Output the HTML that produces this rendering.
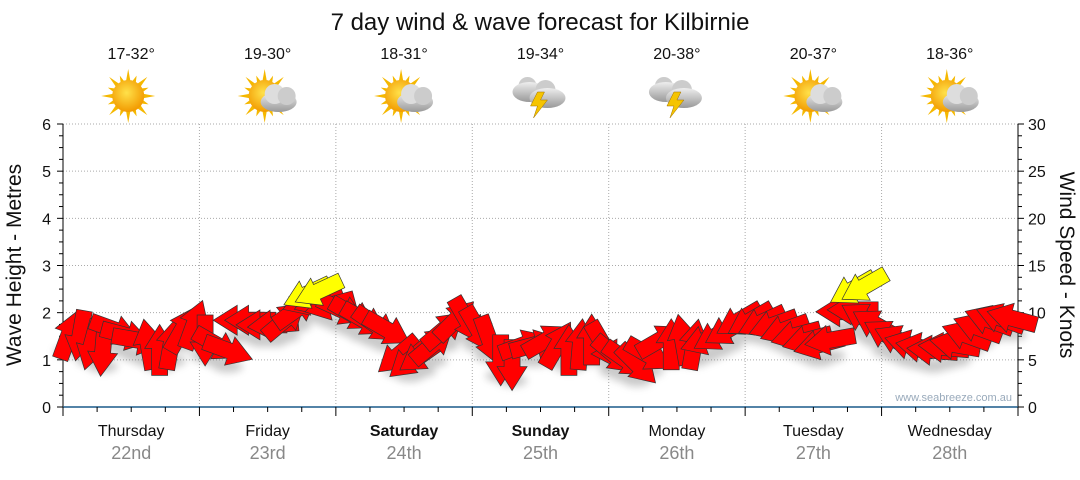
<!DOCTYPE html>
<html><head><meta charset="utf-8"><style>
body{margin:0;background:#fff;width:1080px;height:475px;overflow:hidden;font-family:"Liberation Sans",sans-serif}
</style></head><body>
<svg id="c" width="1080" height="475" xmlns="http://www.w3.org/2000/svg">
<defs>
<radialGradient id="sun" cx="45%" cy="40%" r="60%"><stop offset="0" stop-color="#ffe14a"/><stop offset="1" stop-color="#f29a00"/></radialGradient>
<linearGradient id="cloud" x1="0" y1="0" x2="0" y2="1"><stop offset="0" stop-color="#eee"/><stop offset="1" stop-color="#999"/></linearGradient>
<filter id="sh" x="-50%" y="-50%" width="200%" height="200%"><feGaussianBlur stdDeviation="4"/></filter>
</defs>
</svg>
<script>
const days=["Thursday","Friday","Saturday","Sunday","Monday","Tuesday","Wednesday"];
const dates=["22nd","23rd","24th","25th","26th","27th","28th"];
const temps=["17-32°","19-30°","18-31°","19-34°","20-38°","20-37°","18-36°"];
const icons=["sun","suncloud","suncloud","storm","storm","suncloud","suncloud"];
const waveTicks=[0,1,2,3,4,5,6];
const windTicks=[0,5,10,15,20,25,30];
const windSpeed=[7.6,7.6,6.6,6.0,8.2,7.6,7.1,6.6,6.0,6.6,8.2,8.7,
7.1,6.6,6.0,9.2,9.2,8.7,8.7,9.2,10.3,11.3,11.3,10.8,
10.3,9.8,9.2,8.7,8.2,5.5,5.0,5.5,6.6,8.2,9.2,9.2,
8.2,7.1,5.0,4.5,6.6,6.6,7.1,6.6,6.0,6.6,7.1,6.6,
5.5,5.0,4.5,5.5,7.1,6.6,7.1,6.6,7.1,7.6,8.2,9.2,
9.2,9.0,8.7,8.2,7.6,7.1,6.6,7.1,10.1,10.3,9.4,8.7,
7.6,7.1,6.6,6.3,6.0,6.3,6.6,7.6,8.4,9.2,9.4,9.4];
const windDir=[-70,100,105,95,20,15,10,-100,-90,-80,-60,-70,
90,30,20,180,180,180,175,-40,-35,160,160,165,
25,30,30,35,30,140,140,145,-40,-40,-45,60,
60,70,90,90,-20,-15,-30,-60,-90,-85,-90,60,
40,35,45,30,-30,-90,-100,-80,160,150,150,150,
150,155,160,160,165,165,165,170,180,180,210,210,
210,205,195,190,185,185,190,200,200,200,200,195];
const gustIdx=[21,22,69,70];
const gustSpeed=[12.0,12.3,12.5,12.8];
const gustDir=[155,155,150,150];

const svg=document.getElementById('c');const NS='http://www.w3.org/2000/svg';
function el(t,a,p){const e=document.createElementNS(NS,t);for(const k in a)e.setAttribute(k,a[k]);(p||svg).appendChild(e);return e;}
const X0=63,X1=1018,Y0=407,Y1=124,DW=(X1-X0)/7;
const yW=m=>Y0-(m/6)*(Y0-Y1);
const yK=k=>Y0-(k/30)*(Y0-Y1);
const xI=i=>X0+(i+0.5)*DW/12;

let t=el('text',{x:540,y:30,'text-anchor':'middle','font-size':24,fill:'#111'});t.textContent='7 day wind & wave forecast for Kilbirnie';



for(let m=1;m<=6;m++){const g=el('line',{x1:X0,x2:X1,y1:yW(m),y2:yW(m),stroke:'#aaa','stroke-dasharray':'1,2'});

}
for(let d=1;d<7;d++){const x=X0+d*DW;const g=el('line',{x1:x,x2:x,y1:Y1,y2:Y0,stroke:'#aaa','stroke-dasharray':'1,2'});

}
el('line',{x1:X0,x2:X0,y1:Y1,y2:Y0+6,stroke:'#000'});
el('line',{x1:X1,x2:X1,y1:Y1,y2:Y0+6,stroke:'#000'});
const bx=el('line',{x1:X0,x2:X1,y1:Y0,y2:Y0,stroke:'#1a5a8a','stroke-width':1.5});


for(let m=0;m<=6;m+=0.25){const big=Math.abs(m-Math.round(m))<0.01;el('line',{x1:X0-(big?6:4),x2:X0,y1:yW(m),y2:yW(m),stroke:'#000'});}
for(let k=0;k<=30;k+=1.25){const big=Math.abs(k/5-Math.round(k/5))<0.01;el('line',{x1:X1,x2:X1+(big?6:4),y1:yK(k),y2:yK(k),stroke:'#000'});}
waveTicks.forEach(m=>{const e=el('text',{x:X0-12,y:yW(m)+6,'text-anchor':'end','font-size':16,fill:'#111'});e.textContent=m;

});
windTicks.forEach(k=>{const e=el('text',{x:X1+10,y:yK(k)+6,'font-size':16,fill:'#111'});e.textContent=k;

});
for(let h=0;h<=28;h++){const x=X0+h*DW/4;const big=h%4==0;el('line',{x1:x,x2:x,y1:Y0,y2:Y0+(big?9:5),stroke:'#000'});}
let yl=el('text',{transform:'translate(21,265) rotate(-90)','text-anchor':'middle','font-size':21,fill:'#111'});yl.textContent='Wave Height - Metres';


let yr=el('text',{transform:'translate(1060,265) rotate(90)','text-anchor':'middle','font-size':21,fill:'#111'});yr.textContent='Wind Speed - Knots';


let wm=el('text',{x:1012,y:401,'text-anchor':'end','font-size':11,fill:'#99aabb'});wm.textContent='www.seabreeze.com.au';



days.forEach((d,i)=>{const cx=X0+(i+0.5)*DW;
const a=el('text',{x:cx,y:436,'text-anchor':'middle','font-size':16,fill:'#111','font-weight':(i==2||i==3)?'bold':'normal'});a.textContent=d;


const b=el('text',{x:cx,y:459,'text-anchor':'middle','font-size':18,fill:'#888'});b.textContent=dates[i];


const tt=el('text',{x:cx,y:59,'text-anchor':'middle','font-size':16,fill:'#111'});tt.textContent=temps[i];


const g=el('g',{transform:`translate(${cx-3},96)`});


const ic=icons[i];
if(ic!='storm'){for(let r=0;r<16;r++){const an=r*Math.PI/8,L=r%2?22:27;el('polygon',{points:`${Math.cos(an)*L},${Math.sin(an)*L} ${Math.cos(an+0.2)*13},${Math.sin(an+0.2)*13} ${Math.cos(an-0.2)*13},${Math.sin(an-0.2)*13}`,fill:'#f5b800'},g);}
el('circle',{r:16,fill:'url(#sun)'},g);}
if(ic=='suncloud'){el('ellipse',{cx:14,cy:6,rx:18,ry:10,fill:'url(#cloud)'},g);el('circle',{cx:10,cy:-2,r:10,fill:'#ddd'},g);el('circle',{cx:22,cy:0,r:9,fill:'#ccc'},g);}
if(ic=='storm'){el('circle',{cx:-10,cy:-10,r:9,fill:'#ccc'},g);el('ellipse',{cx:-8,cy:-4,rx:17,ry:10,fill:'url(#cloud)'},g);el('circle',{cx:8,cy:-6,r:10,fill:'#ccc'},g);el('ellipse',{cx:10,cy:2,rx:18,ry:10,fill:'url(#cloud)'},g);
el('polygon',{points:'0,-4 -7,10 0,10 -4,22 10,4 3,4 7,-4',fill:'#f5c400',stroke:'#a07000','stroke-width':0.5},g);}
});

function arrow(x,y,dir,fill,name){
const g=el('g',{transform:`translate(${x},${y}) rotate(${dir})`});


el('polygon',{points:'-25,-8 2,-8 2,-15 26,0 2,15 2,8 -25,8',fill:fill,stroke:'#333','stroke-width':0.7},g);
}
const sh=el('g',{filter:'url(#sh)',opacity:0.35});
windSpeed.forEach((k,i)=>el('ellipse',{cx:xI(i),cy:yK(k)+16,rx:15,ry:6,fill:'#666'},sh));
windSpeed.forEach((k,i)=>arrow(xI(i),yK(k),windDir[i],'#ff0000','wind-arrow'));
gustIdx.forEach((idx,j)=>arrow(xI(idx),yK(gustSpeed[j]),gustDir[j],'#ffff00','gust-arrow'));
</script>
</body></html>
